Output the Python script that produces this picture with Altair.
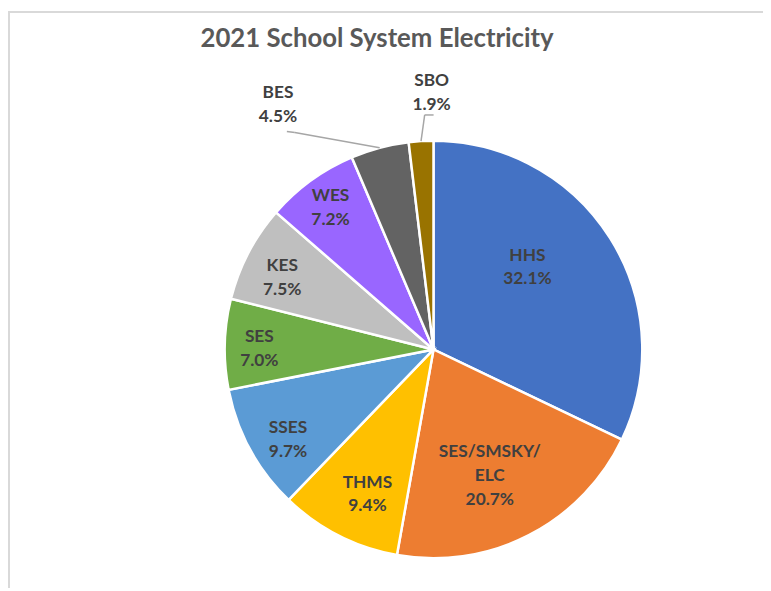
import altair as alt
import pandas as pd

# ---- data ----
categories = ["HHS", "SES/SMSKY/ELC", "THMS", "SSES", "SES", "KES", "WES", "BES", "SBO"]
shares = [32.1, 20.7, 9.4, 9.7, 7.0, 7.5, 7.2, 4.5, 1.9]
label_names = ["HHS", "SES/SMSKY/\nELC", "THMS", "SSES", "SES", "KES", "WES", "BES", "SBO"]

# ---- style / layout ----
colors = ["#4472C4", "#ED7D31", "#FFC000", "#5B9BD5", "#70AD47",
          "#BFBFBF", "#9966FF", "#636363", "#997300"]
label_radius = [126, 140, 161, 173, 176, 169, 177, 293, 259]
label_nudge = [-8.9, 3.2, -2.5, -3.2, -1.4, -2.3, 0, -17.5, 3.0]
elbow_dx = [0, 0, 0, 0, 0, 0, 0, 17, -7]
elbow_dy = [0, 0, 0, 0, 0, 0, 0, 28, 22]
end_dx = [0, 0, 0, 0, 0, 0, 0, 9, 2]
end_dy = [0, 0, 0, 0, 0, 0, 0, 27, 22]

CX, CY, R = 430, 342, 211
W, H = 763, 583
FONT = "Lato"
LH = 24

df = pd.DataFrame({
    "cat": categories,
    "share": shares,
    "name": label_names,
    "nlines": [n.count("\n") + 2 for n in label_names],
    "idx": list(range(len(categories))),
    "lr": label_radius,
    "nudge": label_nudge,
    "edx": elbow_dx, "edy": elbow_dy, "fdx": end_dx, "fdy": end_dy,
})

base = alt.Chart(df).transform_window(
    cum="sum(share)", sort=[{"field": "idx"}], frame=[None, 0]
).transform_joinaggregate(
    total="sum(share)"
).transform_calculate(
    mid="(datum.cum - datum.share/2) / datum.total * 2 * PI"
).transform_calculate(
    la="datum.mid + datum.nudge * PI / 180"
).transform_calculate(
    lx=f"{CX} + datum.lr * sin(datum.la)",
    ly=f"{CY} - datum.lr * cos(datum.la)",
    ex=f"{CX} + {R} * sin(datum.mid)",
    ey=f"{CY} - {R} * cos(datum.mid)",
    txt="datum.name + '\\n' + format(datum.share, '.1f') + '%'",
).transform_calculate(
    ty=f"datum.ly - (datum.nlines - 1) * {LH} / 2",
    bx="datum.lx + datum.edx", by="datum.ly + datum.edy",
    fx="datum.lx + datum.fdx", fy="datum.ly + datum.fdy",
)

pie = alt.Chart(df).mark_arc(radius=R, stroke="white", strokeWidth=2.5).encode(
    theta=alt.Theta("share:Q", stack=True),
    color=alt.Color("cat:N", scale=alt.Scale(domain=categories, range=colors), legend=None),
    order=alt.Order("idx:Q"),
    x=alt.value(CX),
    y=alt.value(CY),
)

labels = base.mark_text(
    font=FONT, fontSize=17.5, fontWeight="bold", color="#404040",
    lineBreak="\n", lineHeight=LH, align="center", baseline="middle",
).encode(
    x=alt.X("lx:Q", scale=None, axis=None),
    y=alt.Y("ty:Q", scale=None, axis=None),
    text="txt:N",
)

outside = base.transform_filter(f"datum.lr > {R}")
leader1 = outside.mark_rule(color="#A6A6A6", strokeWidth=1.5).encode(
    x=alt.X("ex:Q", scale=None, axis=None), y=alt.Y("ey:Q", scale=None, axis=None),
    x2="bx:Q", y2="by:Q",
)
leader2 = outside.mark_rule(color="#A6A6A6", strokeWidth=1.5).encode(
    x=alt.X("bx:Q", scale=None, axis=None), y=alt.Y("by:Q", scale=None, axis=None),
    x2="fx:Q", y2="fy:Q",
)

title = alt.Chart(pd.DataFrame({"t": ["2021 School System Electricity"]})).mark_text(
    font=FONT, fontSize=26, fontWeight="bold", color="#595959",
    align="center", baseline="alphabetic",
).encode(x=alt.value(373), y=alt.value(36), text="t:N")

frame_top = alt.Chart(pd.DataFrame({"a": [0]})).mark_rule(color="#D9D9D9", strokeWidth=2).encode(
    x=alt.value(0), x2=alt.value(W), y=alt.value(1)
)
frame_left = alt.Chart(pd.DataFrame({"a": [0]})).mark_rule(color="#D9D9D9", strokeWidth=2).encode(
    x=alt.value(1), y=alt.value(0), y2=alt.value(H)
)

chart = alt.layer(frame_top, frame_left, pie, leader1, leader2, labels, title).properties(
    width=W, height=H, padding=0, autosize=alt.AutoSizeParams(type="none"),
    background="white",
).configure_view(stroke=None)

chart.save("out.html", embed_options={"renderer": "svg", "actions": False})
